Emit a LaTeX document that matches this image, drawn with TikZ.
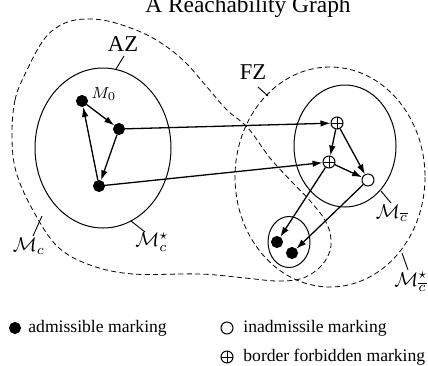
\documentclass[tikz,border=0pt]{standalone}
\usepackage{amsmath}
\usepackage{fontspec}
\setmainfont{Liberation Serif}
\usepackage{tikz}
\usetikzlibrary{arrows.meta, positioning}
\tikzset{
  % Markings
  admark/.style={
    circle, draw, fill=black, minimum size=5.6pt, inner sep=0pt,
  },
  inadmark/.style={
    circle, draw, fill=white, minimum size=6pt, inner sep=0pt, line width=0.5pt,
  },
  bordermark/.style={
    circle, draw, fill=white, minimum size=6pt, inner sep=0pt, line width=0.5pt,
    path picture={
      \draw[line width=0.45pt]
        (path picture bounding box.north) -- (path picture bounding box.south)
        (path picture bounding box.west) -- (path picture bounding box.east);
    },
  },
  % Zones
  zone/.style={draw, line width=0.5pt},
  dashzone/.style={draw, line width=0.4pt, dash pattern=on 2.6pt off 1.6pt},
  leader/.style={line width=0.45pt},
  % Arrows
  arr/.style={-{Latex[length=5pt, width=3.3pt]}, line width=0.65pt},
  % Labels
  titletext/.style={font=\fontsize{11.7}{14}\selectfont},
  zonetext/.style={font=\fontsize{11.3}{13}\selectfont},
  settext/.style={font=\fontsize{10}{12}\selectfont},
  legtext/.style={font=\fontsize{8.8}{10}\selectfont, inner sep=0pt, anchor=west},
}

\begin{document}
\begin{tikzpicture}[x=0.5pt, y=-0.5pt]
  \useasboundingbox (0,0) rectangle (428,365);

  \node[titletext, anchor=base] (title) at (248,12) {A Reachability Graph};

  % Outer reachable set
  \draw[dashzone] plot[smooth cycle, tension=0.6] coordinates {
    (12,140) (15,100) (27,70) (45,38) (65,23) (87,19) (112,22) (143,33)
    (167,47) (187,64) (207,87) (227,110) (248,128) (270,158) (292,182)
    (312,203) (327,224) (331,246) (322,265) (303,278) (278,281) (245,278)
    (200,274) (133,274) (90,265) (58,247) (35,214) (17,175)};

  % Zones
  \draw[zone] (103,148) ellipse [x radius=68, y radius=80];
  \draw[dashzone] (330,177) ellipse [x radius=95, y radius=110];
  \draw[zone] (345,146) ellipse [x radius=51, y radius=61];
  \draw[zone] (289,242) ellipse [x radius=21, y radius=25.5];

  % Zone labels
  \node[zonetext] (az) at (123,44) {AZ};
  \node[zonetext] (fz) at (253,72) {FZ};
  \node[settext] (mc) at (29,246) {$\mathcal{M}_c$};
  \node[settext] (mcs) at (152,242) {$\mathcal{M}_c^\star$};
  \node[settext] (mbc) at (392,213) {$\mathcal{M}_{\overline{c}}$};
  \node[settext] (mbcs) at (411,282) {$\mathcal{M}_{\overline{c}}^\star$};
  \draw[leader] (124,56) -- (116,69);
  \draw[leader] (258,87) -- (268,96);
  \draw[leader] (42,216) -- (33,236);
  \draw[leader] (131,221) -- (145,232);
  \draw[leader] (381,191) -- (391,203);
  \draw[leader] (402,253) -- (408,270);

  % Markings
  \node[admark] (m0) at (82,101) {};
  \node[font=\fontsize{8.5}{10}\selectfont] (m0lab) at (104,94) {$M_0$};
  \node[admark] (m1) at (119,129) {};
  \node[admark] (m2) at (99,186) {};
  \node[bordermark] (b1) at (337,123) {};
  \node[bordermark] (b2) at (329,162) {};
  \node[inadmark] (w1) at (368,180) {};
  \node[admark] (a1) at (277,242) {};
  \node[admark] (a2) at (292,253) {};

  \draw[arr] (m0) -- (m1);
  \draw[arr] (m1) -- (m2);
  \draw[arr] (m2) -- (m0);
  \draw[arr] (m1) -- (b1);
  \draw[arr] (m2) -- (b2);
  \draw[arr] (b1) -- (b2);
  \draw[arr] (b1) -- (w1);
  \draw[arr] (b2) -- (w1);
  \draw[arr] (b2) -- (a1);
  \draw[arr] (w1) -- (a2);

  % Legend
  \node[admark] (key1) at (15,328) {};
  \node[legtext] (lab1) at (28,328) {admissible marking};
  \node[inadmark] (key2) at (227,328) {};
  \node[legtext] (lab2) at (243,328) {inadmissile marking};
  \node[bordermark] (key3) at (227,357) {};
  \node[legtext] (lab3) at (243,357) {border forbidden marking};
\end{tikzpicture}
\end{document}
